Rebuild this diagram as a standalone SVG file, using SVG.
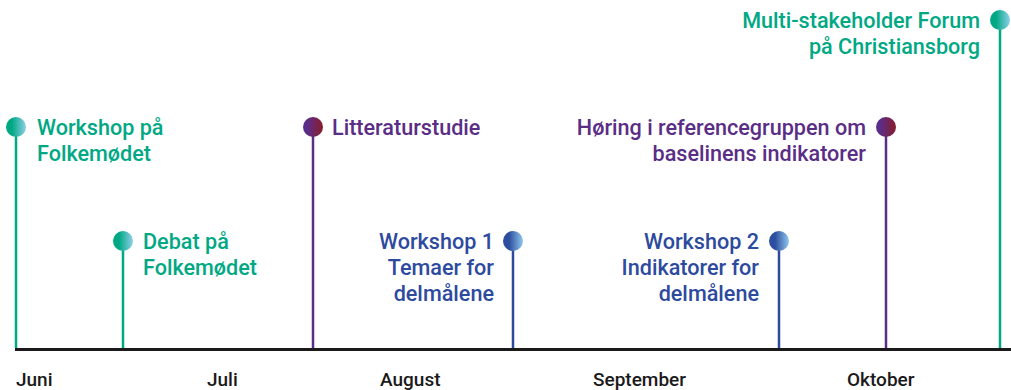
<svg xmlns="http://www.w3.org/2000/svg" width="1011" height="390" viewBox="0 0 1011 390">
<defs>
<linearGradient id="gG" x1="0" y1="0" x2="1" y2="0"><stop offset="0.3" stop-color="#00a884"/><stop offset="1" stop-color="#8fd0e8"/></linearGradient>
<linearGradient id="gP" x1="0" y1="0" x2="1" y2="0"><stop offset="0.2" stop-color="#5a2d8a"/><stop offset="1" stop-color="#8a1c2a"/></linearGradient>
<linearGradient id="gB" x1="0" y1="0" x2="1" y2="0"><stop offset="0.3" stop-color="#2d4d9e"/><stop offset="1" stop-color="#8fc8ee"/></linearGradient>
<style>
text{font-family:Roboto,"Liberation Sans",sans-serif;font-weight:500;font-size:21.6px}
.g{fill:#00a884}.p{fill:#5a2d86}.b{fill:#2d4a9e}
.lg{stroke:#00a884;stroke-width:2.5}.lp{stroke:#5a2d86;stroke-width:2.5}.lb{stroke:#2d4a9e;stroke-width:2.5}
.m{fill:#1a1a1a;font-size:19px}
</style>
</defs>
<g id="connectors">
<line class="lg" x1="16" y1="127" x2="16" y2="348"/>
<line class="lg" x1="123" y1="241" x2="123" y2="348"/>
<line class="lp" x1="313" y1="127" x2="313" y2="348"/>
<line class="lb" x1="513" y1="241" x2="513" y2="348"/>
<line class="lb" x1="779" y1="241" x2="779" y2="348"/>
<line class="lp" x1="886" y1="127" x2="886" y2="348"/>
<line class="lg" x1="1000" y1="20" x2="1000" y2="348"/>
<line x1="15" y1="349.5" x2="1011" y2="349.5" stroke="#1a1a1a" stroke-width="3"/>
</g>
<g id="n1"><circle cx="16" cy="127" r="10" fill="url(#gG)"/><text class="g" x="37" y="135">Workshop på</text><text class="g" x="37" y="161">Folkemødet</text></g>
<g id="n2"><circle cx="123" cy="241" r="10" fill="url(#gG)"/><text class="g" x="143" y="249">Debat på</text><text class="g" x="143" y="275">Folkemødet</text></g>
<g id="n3"><circle cx="313" cy="127" r="10" fill="url(#gP)"/><text class="p" x="332" y="135">Litteraturstudie</text></g>
<g id="n4"><circle cx="513" cy="241" r="10" fill="url(#gB)"/><text class="b" x="494" y="249" text-anchor="end">Workshop 1</text><text class="b" x="494" y="275" text-anchor="end">Temaer for</text><text class="b" x="494" y="301" text-anchor="end">delmålene</text></g>
<g id="n5"><circle cx="779" cy="241" r="10" fill="url(#gB)"/><text class="b" x="759" y="249" text-anchor="end">Workshop 2</text><text class="b" x="759" y="275" text-anchor="end">Indikatorer for</text><text class="b" x="759" y="301" text-anchor="end">delmålene</text></g>
<g id="n6"><circle cx="886" cy="127" r="10" fill="url(#gP)"/><text class="p" x="866" y="135" text-anchor="end">Høring i referencegruppen om</text><text class="p" x="866" y="161" text-anchor="end">baselinens indikatorer</text></g>
<g id="n7"><circle cx="1000" cy="20" r="10" fill="url(#gG)"/><text class="g" x="980" y="28" text-anchor="end">Multi-stakeholder Forum</text><text class="g" x="980" y="54" text-anchor="end">på Christiansborg</text></g>
<g id="months">
<text class="m" x="16" y="386">Juni</text>
<text class="m" x="207" y="386">Juli</text>
<text class="m" x="380" y="386">August</text>
<text class="m" x="593" y="386">September</text>
<text class="m" x="847" y="386">Oktober</text>
</g>
</svg>
